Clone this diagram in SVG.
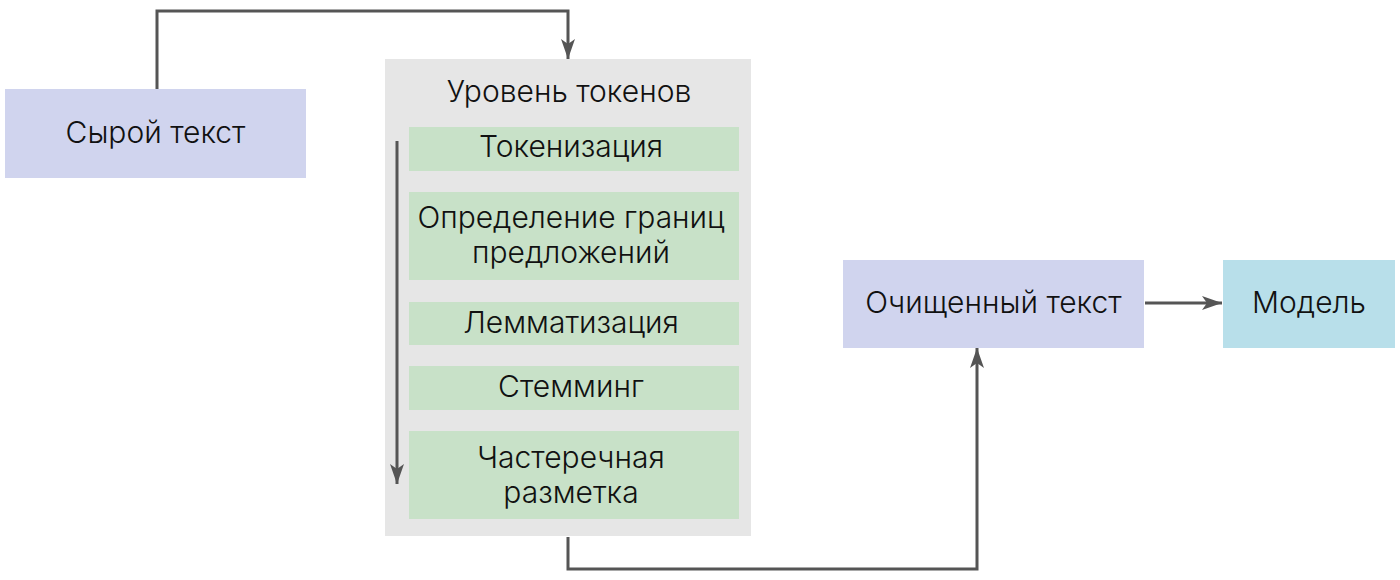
<svg xmlns="http://www.w3.org/2000/svg" width="1400" height="580" viewBox="0 0 1400 580">
<defs>
<marker id="arr" markerWidth="20" markerHeight="14" refX="20" refY="7" orient="auto" markerUnits="userSpaceOnUse" viewBox="0 0 20 14">
<path d="M0,0 L20,7 L0,14 L5,7 Z" fill="#555"/>
</marker>
<style>
text{font-family:Inter,"Noto Sans","DejaVu Sans",sans-serif;font-size:30px;font-weight:300;fill:#111;text-anchor:middle;dominant-baseline:central}
.lav{fill:#d0d4ee}
.grn{fill:#c8e1c8}
.con{fill:none;stroke:#555;stroke-width:3}
</style>
</defs>
<rect width="1400" height="580" fill="#fff"/>
<g id="raw"><rect class="lav" x="5" y="89" width="301" height="89"/><text x="155.5" y="132">Сырой текст</text></g>
<g id="token-level">
<rect x="385" y="59" width="366" height="477" fill="#e6e6e6"/>
<text x="569" y="91">Уровень токенов</text>
<g id="tokenization"><rect class="grn" x="409" y="127" width="330" height="44"/><text x="571" y="146">Токенизация</text></g>
<g id="sentences"><rect class="grn" x="409" y="192" width="330" height="88"/><text x="571" y="217">Определение границ</text><text x="571" y="252">предложений</text></g>
<g id="lemma"><rect class="grn" x="409" y="302" width="330" height="43"/><text x="571" y="322">Лемматизация</text></g>
<g id="stem"><rect class="grn" x="409" y="366" width="330" height="44"/><text x="571" y="386">Стемминг</text></g>
<g id="pos"><rect class="grn" x="409" y="431" width="330" height="88"/><text x="571" y="457">Частеречная</text><text x="571" y="492">разметка</text></g>
</g>
<g id="clean"><rect class="lav" x="843" y="260" width="301" height="88"/><text x="993.5" y="302">Очищенный текст</text></g>
<g id="model"><rect x="1223" y="260" width="172" height="88" fill="#b8dfea"/><text x="1309" y="302">Модель</text></g>
<g id="connectors">
<path class="con" d="M157,89 V11 H568 V59" marker-end="url(#arr)"/>
<path class="con" d="M397,141 V484" marker-end="url(#arr)"/>
<path class="con" d="M568,537 V569 H977 V348" marker-end="url(#arr)"/>
<path class="con" d="M1145,303 H1222" marker-end="url(#arr)"/>
</g>
</svg>
